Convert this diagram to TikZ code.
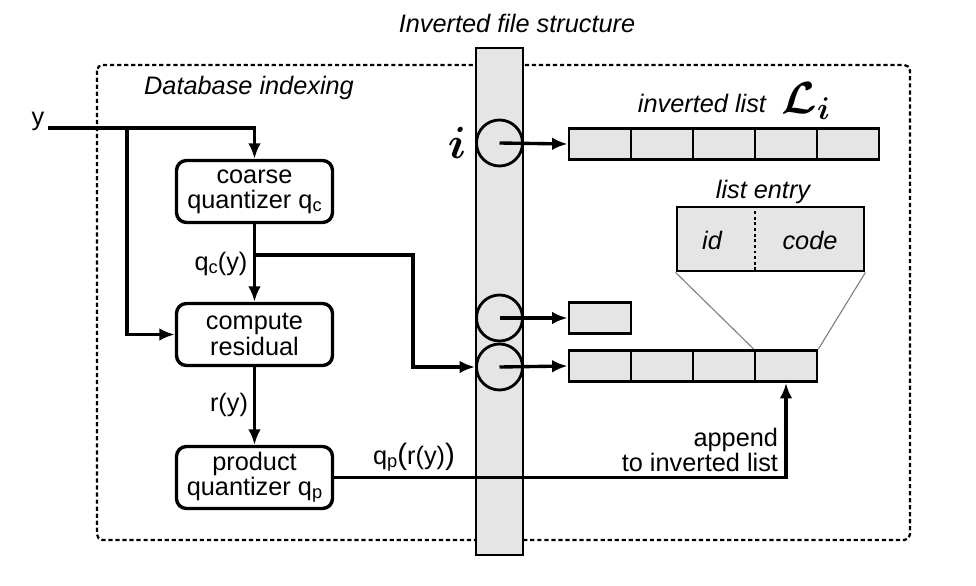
\RequirePackage{fix-cm}
\documentclass[tikz,border=0pt]{standalone}
\usepackage{fontspec}
\setmainfont{Liberation Sans}
\usepackage{amsmath,amssymb}
\usepackage{tikz}
\usetikzlibrary{positioning, calc, arrows.meta}

\newcommand{\lowsub}[1]{\raisebox{-0.12em}{\fontsize{13}{13}\selectfont #1}}

\begin{document}
\begin{tikzpicture}[
    x=0.025cm, y=-0.025cm,
    font=\fontsize{18}{18}\selectfont,
    box/.style={draw, line width=2.4pt, rounded corners=0.25cm, minimum width=3.9cm, minimum height=1.55cm, align=center, inner sep=0pt},
    cell/.style={draw, line width=2pt, fill=gray!20, minimum width=1.55cm, minimum height=0.78cm, inner sep=0pt},
    slot/.style={circle, draw, line width=2pt, minimum size=1.15cm, inner sep=0pt},
    arr/.style={line width=2.4pt, -{Latex[length=11pt,width=9pt]}},
    lbl/.style={font=\fontsize{18}{18}\selectfont\itshape},
    big/.style={font=\fontsize{32}{36}\selectfont},
  ]
    \useasboundingbox (0,0) rectangle (976,586);
    % Database indexing frame
    \draw[line width=1.6pt, dash pattern=on 3pt off 2pt, rounded corners=4pt] (97,65) rectangle (910,540);
    \node[lbl] (dbtitle) at (249,88) {Database indexing};
    % inverted file column
    \node[draw, line width=2pt, fill=gray!20, minimum width=1.175cm, minimum height=12.675cm, inner sep=0pt] (ifs) at (499.5,301.5) {};
    \node[lbl] (ifstitle) at (517,23) {Inverted file structure};
    \node[slot] (ci) at (499.5,143) {};
    \node[slot] (c2) at (499.5,318) {};
    \node[slot] (c3) at (499.5,367) {};
    \node[big] (ilabel) at (457,143) {$\boldsymbol{i}$};
    % quantizer chain
    \node (y) at (38,121) {y};
    \coordinate (yin) at (48,128);
    \coordinate (ysplit) at (127,128);
    \node[box] (coarse) at (254.5,191.5) {coarse\\quantizer q\lowsub{c}};
    \node[box] (resid) at (254.5,334.5) {compute\\residual};
    \node[box] (prod) at (254.5,477.5) {product\\quantizer q\lowsub{p}};
    \draw[arr] (yin) -| (coarse.north);
    \draw[arr] (ysplit) |- (resid.west);
    \draw[arr] (coarse) -- (resid);
    \node (qcy) at (221,264) {q\lowsub{c}(y)};
    \coordinate (qcsplit) at (254.5,255);
    \draw[arr] (qcsplit) -- (413,255) |- (c3.west);
    \draw[arr] (resid) -- (prod);
    \node (ry) at (229,405) {r(y)};
    % inverted lists
    \foreach \k in {0,...,4}
      \node[cell] (top\k) at (600+62*\k,144) {};
    \foreach \k in {0,...,3}
      \node[cell] (bot\k) at (600+62*\k,366) {};
    \node[cell] (one) at (600,318) {};
    \draw[arr] (ci.center) -- (top0.west);
    \draw[arr] (c2.center) -- (one.west);
    \draw[arr] (c3.center) -- (bot0.west);
    \node[lbl] (ltitle) at (702,103) {inverted list};
    \node[big] (Li) at (806,101) {$\boldsymbol{\mathcal{L}_i}$};
    % list entry
    \node[lbl] (etitle) at (763,192) {list entry};
    \node[draw, line width=2pt, fill=gray!20, minimum width=4.675cm, minimum height=1.6cm, inner sep=0pt] (entry) at (770.5,239) {};
    \draw[line width=2pt, dotted] (entry.north -| 755,0) -- (entry.south -| 755,0);
    \node[lbl] (id) at (712,240) {id};
    \node[lbl] (code) at (810,240) {code};
    \draw[gray, line width=0.8pt] (entry.south west) -- (bot3.north west);
    \draw[gray, line width=0.8pt] (entry.south east) -- (bot3.north east);
    % append
    \draw[arr] (prod.east) -| (bot3.south);
    \node (qpry) at (414,457) {q\lowsub{p}{\fontsize{21}{21}\selectfont(}r(y){\fontsize{21}{21}\selectfont)}};
    \node[align=right, anchor=east] (append) at (783,450) {append\\to inverted list};
  \end{tikzpicture}
\end{document}
